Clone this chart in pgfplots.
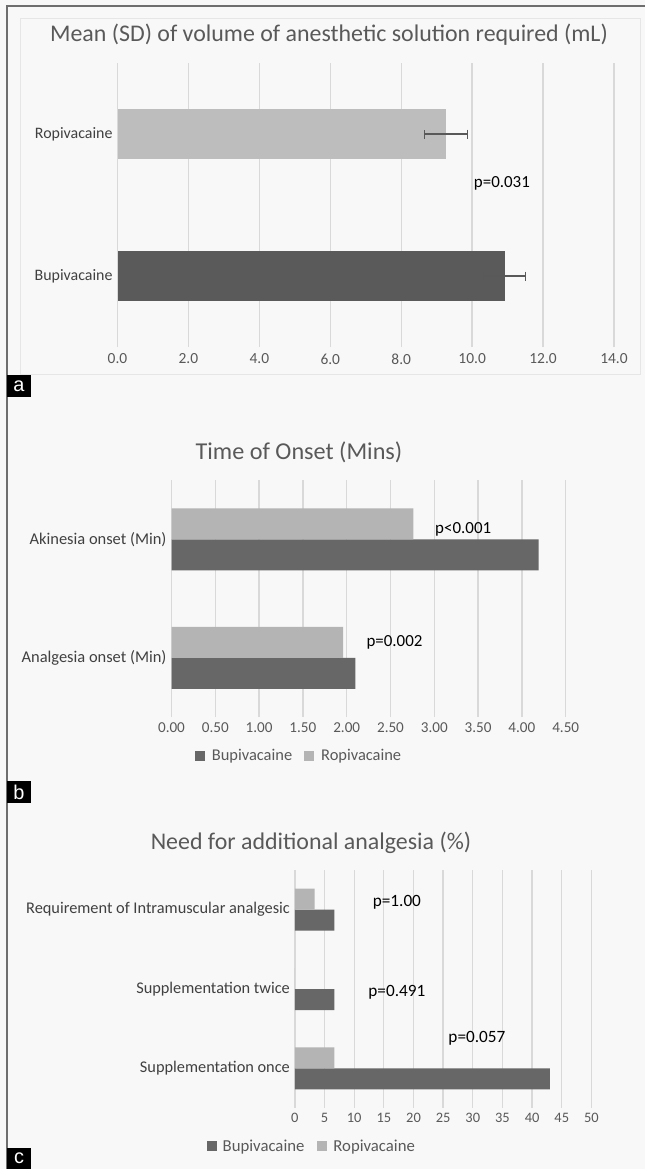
\documentclass[border=0pt]{standalone}
\usepackage{fontspec}
\setmainfont{Carlito}
\newfontfamily\arialfont{Liberation Sans}
\usepackage{pgfplots}
\pgfplotsset{compat=1.18}
\definecolor{bg}{HTML}{F8F8F8}
\definecolor{gridc}{HTML}{D9D9D9}
\definecolor{tickc}{HTML}{595959}
\definecolor{labc}{HTML}{404040}
\definecolor{titc}{HTML}{595959}
\definecolor{darkA}{HTML}{5A5A5A}
\definecolor{lightA}{HTML}{BDBDBD}
\definecolor{darkB}{HTML}{676767}
\definecolor{lightB}{HTML}{B4B4B4}
\definecolor{errc}{HTML}{595959}
\definecolor{framec}{HTML}{6E6E6E}
\definecolor{boxc}{HTML}{E6E6E6}
\pgfplotsset{
  mybar/.style={
    xbar, scale only axis, anchor=north west, clip=false,
    axis line style={draw=none}, major tick length=0pt,
    xmajorgrids, major grid style={draw=gridc, line width=1.3bp},
    /pgf/number format/assume math mode=true,
    xticklabel style={anchor=center, inner sep=0pt, text=tickc},
    yticklabel style={anchor=east, inner sep=0pt, xshift=-4.8bp, text=labc},
  },
  myerr/.style={
    error bars/.cd, x dir=both, x explicit, error mark=|,
    error bar style={draw=errc, line width=1.2bp},
    error mark options={draw=errc, line width=1.2bp, mark size=4.5bp},
  },
}
\begin{document}
\begin{tikzpicture}
\useasboundingbox (0,0) rectangle (645bp,-1169bp);
\fill[bg] (0,0) rectangle (645bp,-1169bp);
\draw[boxc, line width=0.8bp] (20bp,-18bp) rectangle (640bp,-374bp);
\draw[framec, line width=2bp] (7bp,-1169bp) -- (7bp,-6bp) -- (645bp,-6bp);

% ---------- panel a ----------
\node[text=titc, font=\fontsize{24}{28}\selectfont] at (329bp,-35bp) {Mean (SD) of volume of anesthetic solution required (mL)};
\begin{axis}[mybar,
  at={(117.5bp,-63bp)}, width=496.5bp, height=284bp,
  xmin=0, xmax=14, ymin=-0.5, ymax=1.5,
  xtick={0,2,4,6,8,10,12,14},
  ytick={0,1}, yticklabels={Bupivacaine,Ropivacaine},
  xticklabel style={yshift=-12bp, font=\fontsize{15.5}{18}\selectfont,
    /pgf/number format/.cd, fixed, fixed zerofill, precision=1},
  yticklabel style={font=\fontsize{16}{19}\selectfont},
]
\addplot[fill=darkA, draw=none, bar shift=0pt, bar width=50bp, myerr]
  coordinates {(10.92,0) +- (0.59,0)};
\addplot[fill=lightA, draw=none, bar shift=0pt, bar width=50bp, myerr]
  coordinates {(9.26,1) +- (0.60,0)};
\node[font=\fontsize{17}{20}\selectfont, text=black] at (axis cs:10.84,0.65) {p=0.031};
\end{axis}
\node[fill=black, text=white, minimum width=24bp, minimum height=22bp, inner sep=0pt,
  font=\arialfont\fontsize{20}{20}\selectfont] at (19bp,-386bp) {a};

% ---------- panel b ----------
\node[text=titc, font=\fontsize{24.3}{28}\selectfont] at (299bp,-452.7bp) {Time of Onset (Mins)};
\begin{axis}[mybar,
  at={(171.5bp,-480bp)}, width=394.2bp, height=237bp,
  xmin=0, xmax=4.5, ymin=-0.5, ymax=1.5,
  xtick={0,0.5,1,1.5,2,2.5,3,3.5,4,4.5},
  ytick={0,1}, yticklabels={Analgesia onset (Min),Akinesia onset (Min)},
  xticklabel style={yshift=-11bp, font=\fontsize{15.2}{18}\selectfont,
    /pgf/number format/.cd, fixed, fixed zerofill, precision=2},
  yticklabel style={font=\fontsize{16.5}{19}\selectfont},
  legend columns=2,
  legend style={at={(0.3235,-0.1646)}, anchor=center, draw=none, fill=none,
    font=\fontsize{16.5}{19}\selectfont, text=tickc, inner sep=0pt,
    /tikz/every odd column/.append style={column sep=5bp},
    /tikz/every even column/.append style={column sep=10bp}},
  legend image code/.code={\fill[#1] (0bp,-5bp) rectangle (10bp,5bp);},
]
\addplot[fill=darkB, draw=none, bar shift=-15.5bp, bar width=31bp]
  coordinates {(2.10,0) (4.19,1)};
\addplot[fill=lightB, draw=none, bar shift=15.5bp, bar width=31bp]
  coordinates {(1.96,0) (2.76,1)};
\legend{Bupivacaine,Ropivacaine}
\node[font=\fontsize{17}{20}\selectfont, text=black] at (axis cs:3.33,1.085) {p<0.001};
\node[font=\fontsize{17}{20}\selectfont, text=black] at (axis cs:2.546,0.127) {p=0.002};
\end{axis}
\node[fill=black, text=white, minimum width=24bp, minimum height=22bp, inner sep=0pt,
  font=\arialfont\fontsize{20}{20}\selectfont] at (19bp,-792bp) {b};

% ---------- panel c ----------
\node[text=titc, font=\fontsize{24}{28}\selectfont] at (311bp,-843bp) {Need for additional analgesia (\%)};
\begin{axis}[mybar,
  at={(294.9bp,-870bp)}, width=296.5bp, height=238bp,
  xmin=0, xmax=50, ymin=-0.5, ymax=2.5,
  xtick={0,5,...,50},
  ytick={0,1,2}, yticklabels={Supplementation once,Supplementation twice,Requirement of Intramuscular analgesic},
  xticklabel style={yshift=-10bp, font=\fontsize{14.5}{17}\selectfont},
  yticklabel style={font=\fontsize{16.4}{19}\selectfont},
  legend columns=2,
  legend style={at={(0.057,-0.16)}, anchor=center, draw=none, fill=none,
    font=\fontsize{16.8}{19}\selectfont, text=tickc, inner sep=0pt,
    /tikz/every odd column/.append style={column sep=4bp},
    /tikz/every even column/.append style={column sep=11bp}},
  legend image code/.code={\fill[#1] (0bp,-5bp) rectangle (10bp,5bp);},
]
\addplot[fill=darkB, draw=none, bar shift=-10.5bp, bar width=21bp]
  coordinates {(43.0,0) (6.67,1) (6.67,2)};
\addplot[fill=lightB, draw=none, bar shift=10.5bp, bar width=21bp]
  coordinates {(6.67,0) (0,1) (3.33,2)};
\legend{Bupivacaine,Ropivacaine}
\node[font=\fontsize{17.3}{20}\selectfont, text=black] at (axis cs:17.2,2.09) {p=1.00};
\node[font=\fontsize{17.3}{20}\selectfont, text=black] at (axis cs:17.2,0.962) {p=0.491};
\node[font=\fontsize{17.3}{20}\selectfont, text=black] at (axis cs:30.7,0.373) {p=0.057};
\end{axis}
\node[fill=black, text=white, minimum width=24bp, minimum height=21bp, inner sep=0pt,
  font=\arialfont\fontsize{20}{20}\selectfont] at (19bp,-1158.5bp) {c};
\end{tikzpicture}
\end{document}
